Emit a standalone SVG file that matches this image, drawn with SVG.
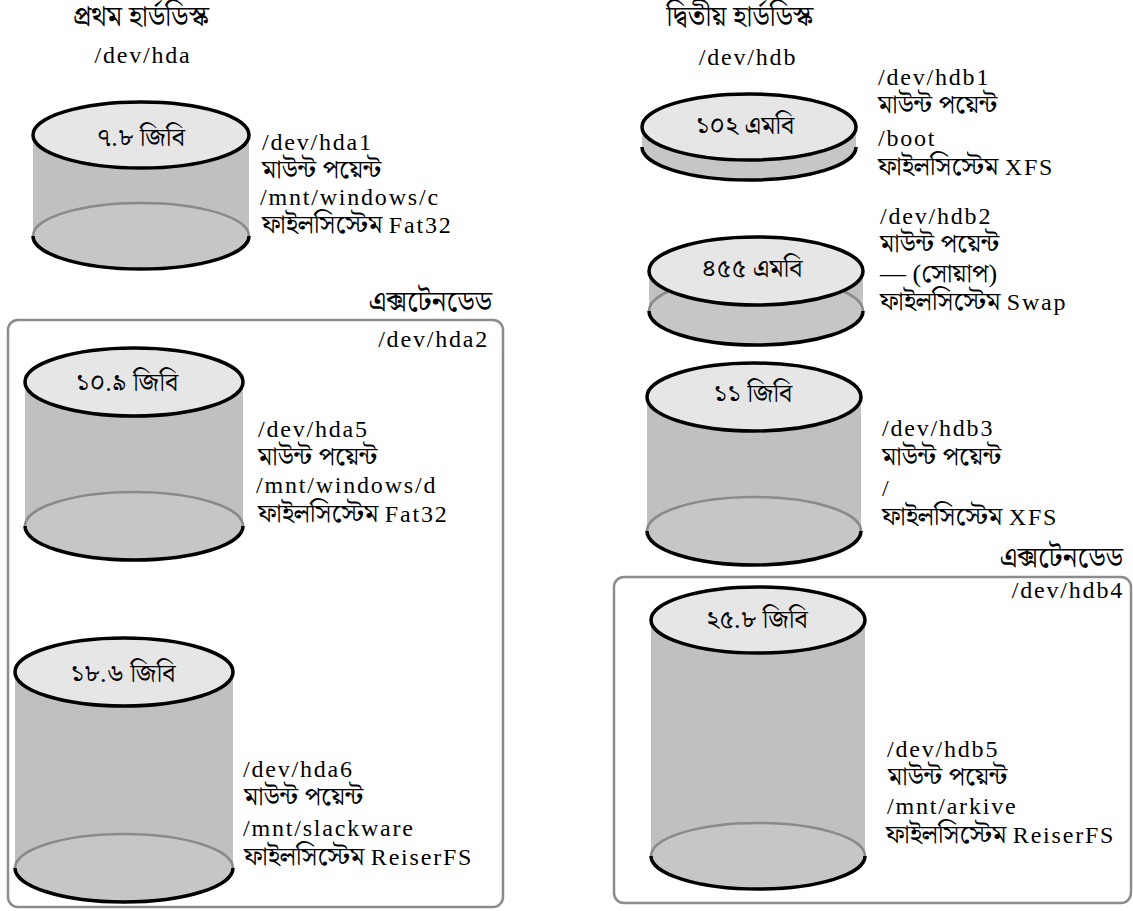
<svg xmlns="http://www.w3.org/2000/svg" width="1133" height="911" viewBox="0 0 1133 911">
<style>
text{font-family:"Liberation Serif","Noto Serif Bengali","Noto Sans Bengali","Lohit Bengali","Noto Sans",serif;font-size:26px;fill:#000}
.t{font-size:28px}
.lat{font-size:24px;letter-spacing:1.8px}
.c{text-anchor:middle}
.e{text-anchor:end}
.body{fill:#c0c0c0;stroke:none}
.bot{fill:#c6c6c6;stroke:none}
.back{fill:none;stroke:#8a8a8a;stroke-width:2.5}
.front{fill:none;stroke:#000;stroke-width:3.5}
.top{fill:#e6e6e6;stroke:#000;stroke-width:3.5}
.box{fill:none;stroke:#8c8c8c;stroke-width:2.5}
</style>
<rect width="1133" height="911" fill="#fff"/>

<g id="disk-hda-title">
<text class="c t" x="141" y="26">প্রথম হার্ডডিস্ক</text>
<text class="c lat" x="143" y="63">/dev/hda</text>
</g>
<g id="disk-hdb-title">
<text class="c t" x="740" y="26">দ্বিতীয় হার্ডডিস্ক</text>
<text class="c lat" x="748" y="65">/dev/hdb</text>
</g>

<g id="extended-hda2">
<rect class="box" x="8" y="320" width="495" height="587" rx="10"/>
<text class="e t" x="492" y="311">এক্সটেনডেড</text>
<text class="e lat" x="489" y="347">/dev/hda2</text>
</g>
<g id="extended-hdb4">
<rect class="box" x="614" y="577" width="517" height="326" rx="10"/>
<text class="e t" x="1123" y="567">এক্সটেনডেড</text>
<text class="e lat" x="1124" y="598">/dev/hdb4</text>
</g>

<g id="hda1">
<rect class="body" x="33" y="135" width="216" height="101"/>
<ellipse class="bot" cx="141" cy="236" rx="108" ry="33"/>
<path class="back" d="M33,236 A108,33 0 0 1 249,236"/>
<path class="front" d="M33,236 A108,33 0 0 0 249,236"/>
<ellipse class="top" cx="141" cy="135" rx="108" ry="33"/>
<text class="c" x="141" y="146">৭.৮ জিবি</text>
<text class="lat" x="262" y="150">/dev/hda1</text>
<text x="262" y="178">মাউন্ট পয়েন্ট</text>
<text class="lat" x="260" y="205">/mnt/windows/c</text>
<text x="262" y="233">ফাইলসিস্টেম <tspan class="lat">Fat32</tspan></text>
</g>

<g id="hda5">
<rect class="body" x="25" y="382" width="218" height="144"/>
<ellipse class="bot" cx="134" cy="526" rx="109" ry="34"/>
<path class="back" d="M25,526 A109,34 0 0 1 243,526"/>
<path class="front" d="M25,526 A109,34 0 0 0 243,526"/>
<ellipse class="top" cx="134" cy="382" rx="109" ry="34"/>
<text class="c" x="127" y="391">১০.৯ জিবি</text>
<text class="lat" x="258" y="437">/dev/hda5</text>
<text x="258" y="465">মাউন্ট পয়েন্ট</text>
<text class="lat" x="256" y="493">/mnt/windows/d</text>
<text x="258" y="522">ফাইলসিস্টেম <tspan class="lat">Fat32</tspan></text>
</g>

<g id="hda6">
<rect class="body" x="15" y="672" width="218" height="196"/>
<ellipse class="bot" cx="124" cy="868" rx="109" ry="34"/>
<path class="back" d="M15,868 A109,34 0 0 1 233,868"/>
<path class="front" d="M15,868 A109,34 0 0 0 233,868"/>
<ellipse class="top" cx="124" cy="672" rx="109" ry="34"/>
<text class="c" x="123" y="682">১৮.৬ জিবি</text>
<text class="lat" x="243" y="777">/dev/hda6</text>
<text x="244" y="805">মাউন্ট পয়েন্ট</text>
<text class="lat" x="243" y="836">/mnt/slackware</text>
<text x="244" y="865">ফাইলসিস্টেম <tspan class="lat">ReiserFS</tspan></text>
</g>

<g id="hdb1">
<rect class="body" x="642" y="127" width="214" height="20"/>
<ellipse class="bot" cx="749" cy="147" rx="107" ry="33"/>
<path class="front" d="M642,147 A107,33 0 0 0 856,147"/>
<ellipse class="top" cx="749" cy="127" rx="107" ry="33"/>
<text class="c" x="745" y="134">১০২ এমবি</text>
<text class="lat" x="878" y="85">/dev/hdb1</text>
<text x="878" y="113">মাউন্ট পয়েন্ট</text>
<text class="lat" x="878" y="146">/boot</text>
<text x="878" y="175">ফাইলসিস্টেম <tspan class="lat">XFS</tspan></text>
</g>

<g id="hdb2">
<rect class="body" x="649" y="271" width="214" height="40"/>
<ellipse class="bot" cx="756" cy="311" rx="107" ry="34"/>
<path class="back" d="M649,311 A107,34 0 0 1 863,311"/>
<path class="front" d="M649,311 A107,34 0 0 0 863,311"/>
<ellipse class="top" cx="756" cy="271" rx="107" ry="34"/>
<text class="c" x="752" y="277">৪৫৫ এমবি</text>
<text class="lat" x="880" y="224">/dev/hdb2</text>
<text x="880" y="252">মাউন্ট পয়েন্ট</text>
<text x="880" y="282">— (সোয়াপ)</text>
<text x="880" y="310">ফাইলসিস্টেম <tspan class="lat">Swap</tspan></text>
</g>

<g id="hdb3">
<rect class="body" x="647" y="397" width="214" height="134"/>
<ellipse class="bot" cx="754" cy="531" rx="107" ry="34"/>
<path class="back" d="M647,531 A107,34 0 0 1 861,531"/>
<path class="front" d="M647,531 A107,34 0 0 0 861,531"/>
<ellipse class="top" cx="754" cy="397" rx="107" ry="34"/>
<text class="c" x="753" y="402">১১ জিবি</text>
<text class="lat" x="882" y="436">/dev/hdb3</text>
<text x="882" y="465">মাউন্ট পয়েন্ট</text>
<text class="lat" x="882" y="496">/</text>
<text x="882" y="525">ফাইলসিস্টেম <tspan class="lat">XFS</tspan></text>
</g>

<g id="hdb5">
<rect class="body" x="651" y="620" width="214" height="236"/>
<ellipse class="bot" cx="758" cy="856" rx="107" ry="33"/>
<path class="back" d="M651,856 A107,33 0 0 1 865,856"/>
<path class="front" d="M651,856 A107,33 0 0 0 865,856"/>
<ellipse class="top" cx="758" cy="620" rx="107" ry="33"/>
<text class="c" x="757" y="628">২৫.৮ জিবি</text>
<text class="lat" x="887" y="757">/dev/hdb5</text>
<text x="888" y="785">মাউন্ট পয়েন্ট</text>
<text class="lat" x="887" y="814">/mnt/arkive</text>
<text x="886" y="843">ফাইলসিস্টেম <tspan class="lat">ReiserFS</tspan></text>
</g>

<g id="connectors"></g>
</svg>
